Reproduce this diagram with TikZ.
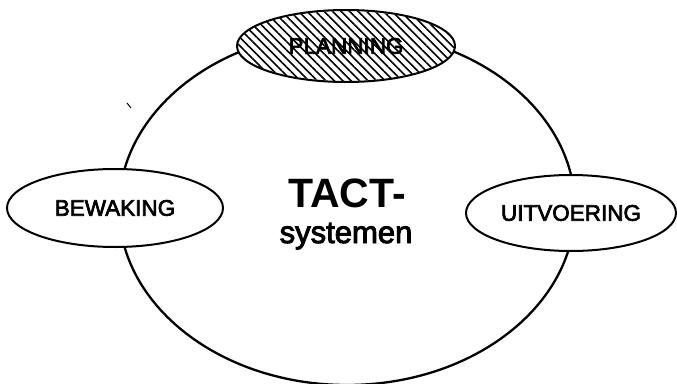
\documentclass[tikz,border=0pt]{standalone}
\usepackage{fontspec}
\setmainfont{Liberation Sans}
\newfontfamily\labelfont[FakeBold=3]{Liberation Sans}
\usetikzlibrary{shapes.geometric,patterns.meta}
\begin{document}
\begin{tikzpicture}[x=1pt,y=-1pt,
  outline/.style={draw=black,line width=2.3pt},
  phase/.style={ellipse,outline,line width=2pt,fill=white,inner sep=0pt,
    font=\labelfont\fontsize{22.5}{26}\selectfont},
  hatched/.style={pattern={Lines[angle=-45,distance=6pt,line width=1.6pt]}}]
  \useasboundingbox (0,0) rectangle (677,383);
  % the system as a whole
  \node[ellipse,outline,inner sep=0pt,minimum width=456pt,minimum height=354pt]
    (sys) at (347,208) {};
  % the three activities on its rim
  \node[phase,minimum width=216pt,minimum height=78pt] (bew) at (115,208) {BEWAKING};
  \node[phase,minimum width=210pt,minimum height=76pt] (uit) at (571,213) {UITVOERING};
  \node[ellipse,outline,line width=2pt,fill=white,inner sep=0pt,
    minimum width=218pt,minimum height=72pt] (plan) at (346,46) {};
  \fill[hatched] (plan.center) ellipse[x radius=108pt,y radius=35pt];
  \node[font=\labelfont\fontsize{22.5}{26}\selectfont] (plantxt) at (plan.center) {PLANNING};
  % title in the middle
  \node[font=\bfseries\fontsize{41}{44}\selectfont,anchor=base] (tact) at (347,207) {TACT-};
  \node[font=\labelfont\fontsize{31}{34}\selectfont,anchor=base] (syst) at (346,243) {systemen};
  % small pen mark
  \draw[line width=1pt] (127,103) -- (131,108);
\end{tikzpicture}
\end{document}
